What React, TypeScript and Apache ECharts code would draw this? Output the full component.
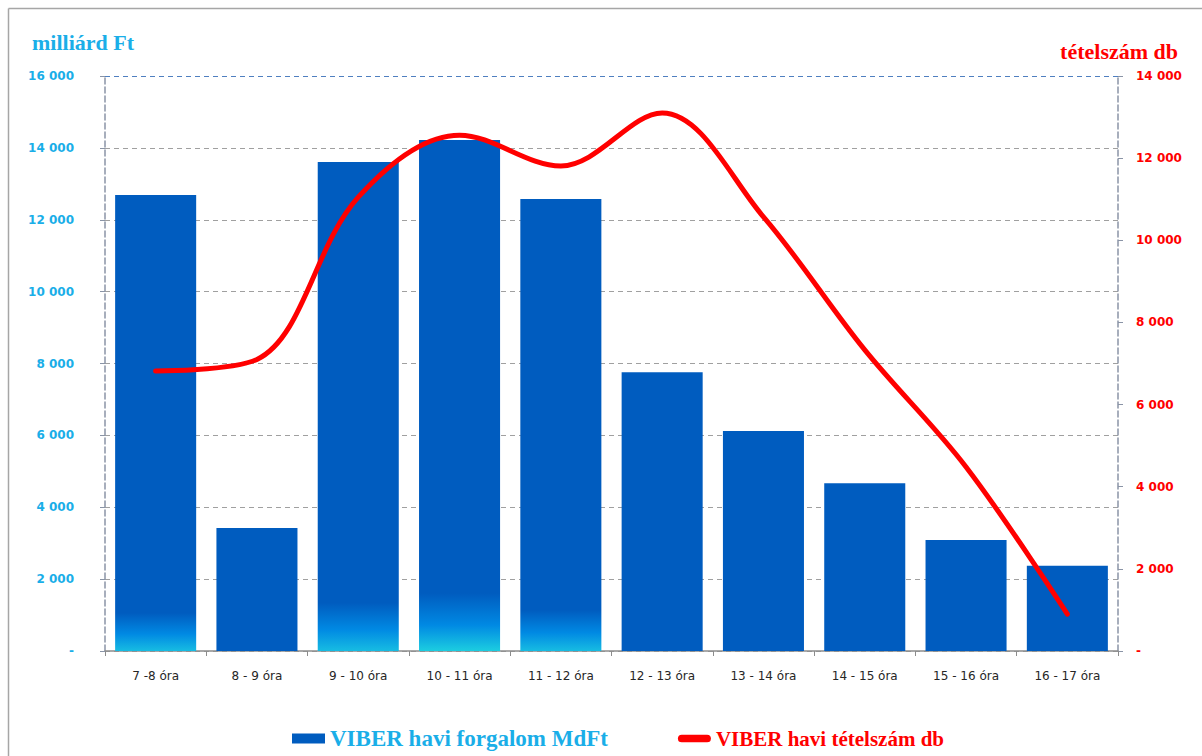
import React, { useEffect, useRef } from "react";
import * as echarts from "echarts";

const categories = [
  "7 -8 óra", "8 - 9 óra", "9 - 10 óra", "10 - 11 óra", "11 - 12 óra",
  "12 - 13 óra", "13 - 14 óra", "14 - 15 óra", "15 - 16 óra", "16 - 17 óra",
];
const forgalom = [12690, 3420, 13610, 14220, 12580, 7760, 6120, 4670, 3090, 2370];
const tetelszam = [6820, 7100, 11050, 12560, 11810, 13100, 10570, 7330, 4480, 900];
const leftTicks = [0, 2000, 4000, 6000, 8000, 10000, 12000, 14000, 16000];
const rightTicks = [0, 2000, 4000, 6000, 8000, 10000, 12000, 14000];

// glossy glow depth at the bottom of some bars (style only)
const glowDepth = [1060, 0, 1340, 1610, 1140, 0, 0, 0, 0, 0];

const BLUE = "#005CBF";
const LIGHT = "#1AAEE8";
const RED = "#FF0000";

const fmt = (v: number) =>
  v === 0 ? "-" : String(v).replace(/\B(?=(\d{3})+(?!\d))/g, " ");

export default function App() {
  const ref = useRef<HTMLDivElement>(null);
  useEffect(() => {
    if (!ref.current) return;
    const chart = echarts.init(ref.current, undefined, { renderer: "svg" });
    const barData = forgalom.map((v, i) => {
      const g = glowDepth[i] / v;
      if (g <= 0) return { value: v };
      return {
        value: v,
        itemStyle: {
          color: {
            type: "linear", x: 0, y: 0, x2: 0, y2: 1,
            colorStops: [
              { offset: 0, color: BLUE },
              { offset: 1 - g, color: BLUE },
              { offset: 1 - g * 0.45, color: "#0089E3" },
              { offset: 1, color: i === 3 ? "#1CCDE0" : "#17BCE2" },
            ],
          },
        },
      };
    });
    const serif = "'Liberation Serif', 'DejaVu Serif', serif";
    const sans = "'DejaVu Sans', sans-serif";
    chart.setOption({
      animation: false,
      backgroundColor: "#ffffff",
      title: [
        {
          text: "milliárd Ft", left: 32, top: 31, padding: 0,
          textStyle: { fontFamily: serif, fontWeight: "bold", fontSize: 22, color: LIGHT },
        },
        {
          text: "tételszám db", right: 24, top: 40, padding: 0,
          textStyle: { fontFamily: serif, fontWeight: "bold", fontSize: 22, color: RED },
        },
      ],
      legend: {
        left: 287, top: 722, itemGap: 70, itemWidth: 33, itemHeight: 10,
        data: [
          {
            name: "VIBER havi forgalom MdFt", icon: "rect",
            textStyle: { color: LIGHT, fontSize: 23 },
          },
          {
            name: "VIBER havi tételszám db",
            icon: "path://M3.5,0 H26.5 A3.5,3.5 0 0 1 26.5,7 H3.5 A3.5,3.5 0 0 1 3.5,0 Z",
            textStyle: { color: RED, fontSize: 21 },
          },
        ],
        textStyle: { fontFamily: serif, fontWeight: "bold", fontSize: 22 },
      },
      graphic: [
        { type: "line", shape: { x1: 8.5, y1: 8.5, x2: 1202, y2: 8.5 }, style: { stroke: "#A6A6A6", lineWidth: 1.5 } },
        { type: "line", shape: { x1: 8.5, y1: 8.5, x2: 8.5, y2: 756 }, style: { stroke: "#A6A6A6", lineWidth: 1.5 } },
      ],
      grid: { left: 105, right: 84, top: 76, bottom: 105, containLabel: false },
      xAxis: {
        type: "category",
        data: categories,
        boundaryGap: true,
        axisLine: { lineStyle: { color: "#8C8C8C", width: 1.5 } },
        axisTick: { show: true, length: 5, lineStyle: { color: "#8C8C8C" } },
        axisLabel: { color: "#262626", fontFamily: sans, fontSize: 12, margin: 19, interval: 0 },
      },
      yAxis: [
        {
          type: "value", min: 0, max: 16000, interval: 2000,
          axisLine: { show: true, lineStyle: { color: "#8A94A6", type: "dashed", width: 1.5 } },
          axisTick: { show: true, length: 5, lineStyle: { color: "#8A94A6" } },
          axisLabel: {
            color: LIGHT, fontFamily: sans, fontWeight: "bold", fontSize: 12, margin: 31,
            formatter: (v: number) => (leftTicks.includes(v) ? fmt(v) : ""),
          },
          splitLine: {
            show: true,
            lineStyle: {
              type: [5, 4],
              width: 1.2,
              color: ["#A0A0A0", "#A0A0A0", "#A0A0A0", "#A0A0A0", "#A0A0A0", "#A0A0A0", "#A0A0A0", "#A0A0A0", "#4F7FC0"],
            },
          },
        },
        {
          type: "value", min: 0, max: 14000, interval: 2000, position: "right",
          axisLine: { show: true, lineStyle: { color: "#8A94A6", type: "dashed", width: 1.5 } },
          axisTick: { show: true, length: 5, lineStyle: { color: "#8A94A6" } },
          axisLabel: {
            color: RED, fontFamily: sans, fontWeight: "bold", fontSize: 12, margin: 18,
            formatter: (v: number) => (rightTicks.includes(v) ? fmt(v) : ""),
          },
          splitLine: { show: false },
        },
      ],
      series: [
        {
          name: "VIBER havi forgalom MdFt",
          type: "bar",
          yAxisIndex: 0,
          data: barData,
          barCategoryGap: "20%",
          itemStyle: { color: BLUE },
        },
        {
          name: "VIBER havi tételszám db",
          type: "line",
          yAxisIndex: 1,
          data: tetelszam,
          smooth: 0.35,
          showSymbol: false,
          symbol: "none",
          lineStyle: { color: RED, width: 5, cap: "round" },
          itemStyle: { color: RED },
          z: 5,
        },
      ],
    });
    return () => chart.dispose();
  }, []);
  return (
    <div
      ref={ref}
      style={{ position: "fixed", left: 0, top: 0, width: 1202, height: 756 }}
    />
  );
}
